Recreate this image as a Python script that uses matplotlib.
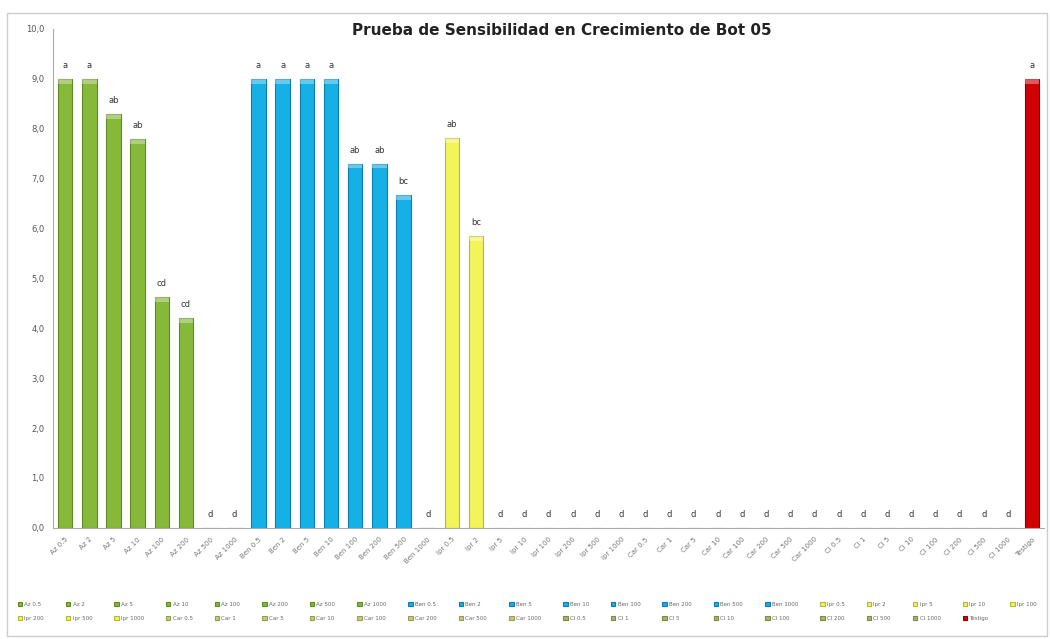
import matplotlib.pyplot as plt
from matplotlib.patches import Rectangle

# categories (tick labels) and values
categorias = ['Az 0.5', 'Az 2', 'Az 5', 'Az 10', 'Az 100', 'Az 200', 'Az 500', 'Az 1000',
              'Ben 0.5', 'Ben 2', 'Ben 5', 'Ben 10', 'Ben 100', 'Ben 200', 'Ben 500', 'Ben 1000',
              'Ipr 0.5', 'Ipr 2', 'Ipr 5', 'Ipr 10', 'Ipr 100', 'Ipr 200', 'Ipr 500', 'Ipr 1000',
              'Car 0.5', 'Car 1', 'Car 5', 'Car 10', 'Car 100', 'Car 200', 'Car 500', 'Car 1000',
              'Cl 0.5', 'Cl 1', 'Cl 5', 'Cl 10', 'Cl 100', 'Cl 200', 'Cl 500', 'Cl 1000',
              'Testigo']
valores = [9.0, 9.0, 8.3, 7.8, 4.62, 4.2, 0, 0,
           9.0, 9.0, 9.0, 9.0, 7.3, 7.3, 6.66, 0,
           7.82, 5.84, 0, 0, 0, 0, 0, 0,
           0, 0, 0, 0, 0, 0, 0, 0,
           0, 0, 0, 0, 0, 0, 0, 0,
           9.0]
letras = ['a', 'a', 'ab', 'ab', 'cd', 'cd', 'd', 'd',
          'a', 'a', 'a', 'a', 'ab', 'ab', 'bc', 'd',
          'ab', 'bc', 'd', 'd', 'd', 'd', 'd', 'd',
          'd', 'd', 'd', 'd', 'd', 'd', 'd', 'd',
          'd', 'd', 'd', 'd', 'd', 'd', 'd', 'd',
          'a']
grupos = ['Az'] * 8 + ['Ben'] * 8 + ['Ipr'] * 8 + ['Car'] * 8 + ['Cl'] * 8 + ['Testigo']

color_grupo = {'Az': '#86b83a', 'Ben': '#14b0e6', 'Ipr': '#f3f35a',
               'Car': '#c9c97a', 'Cl': '#a8b86a', 'Testigo': '#d00000'}
borde_grupo = {'Az': '#5f8a24', 'Ben': '#0a7fb0', 'Ipr': '#b8b830',
               'Car': '#9a9a50', 'Cl': '#7a8a40', 'Testigo': '#8a0000'}

fig = plt.figure(figsize=(10.5, 6.39), dpi=100)
ax = fig.add_axes([0.0505, 0.174, 0.944, 0.781])

x = list(range(len(categorias)))
handles = []
for i, (cat, v, g) in enumerate(zip(categorias, valores, grupos)):
    b = ax.bar(i, v, width=0.6, color=color_grupo[g], edgecolor=borde_grupo[g],
               linewidth=0.8, label=cat, zorder=2)
    handles.append(b)
    if v > 0:
        # lighter cap on top of each bar
        ax.bar(i, 0.1, bottom=v - 0.1, width=0.6, color='white', alpha=0.35,
               linewidth=0, zorder=3)
    ax.text(i, v + 0.18, letras[i], ha='center', va='bottom', fontsize=6,
            color='#333333', zorder=4)

ax.set_xlim(-0.5, len(categorias) - 0.5)
ax.set_ylim(0, 10)
ax.set_yticks(range(0, 11))
ax.set_yticklabels([f'{t},0' for t in range(0, 11)], fontsize=6, color='#555555')
ax.set_xticks(x)
ax.set_xticklabels(categorias, rotation=45, ha='right', rotation_mode='anchor',
                   fontsize=5, color='#777777')
ax.tick_params(axis='both', length=0, pad=6)
for s in ['top', 'right']:
    ax.spines[s].set_visible(False)
ax.spines['left'].set_color('#aaaaaa')
ax.spines['bottom'].set_color('#aaaaaa')

fig.text(0.535, 0.953, 'Prueba de Sensibilidad en Crecimiento de Bot 05',
         ha='center', va='center', fontsize=11, fontweight='bold', color='#222222')

# legend filled row by row: 21 entries on the first row, 20 on the second
ncol = 21
orden = []
for j in range(ncol):
    orden.append(j)
    if j + ncol < len(handles):
        orden.append(j + ncol)
fig.legend([handles[k] for k in orden], [categorias[k] for k in orden],
           loc='lower left', bbox_to_anchor=(0.012, 0.02, 0.98, 0.06), mode='expand',
           ncol=ncol, fontsize=4, frameon=False, handlelength=0.8, handleheight=0.8,
           handletextpad=0.4, labelspacing=1.7, labelcolor='#666666')

# light gray chart border
fig.patches.append(Rectangle((0.007, 0.004), 0.99, 0.975, transform=fig.transFigure,
                             fill=False, edgecolor='#cccccc', linewidth=1))

plt.savefig('out.png', dpi=100)
